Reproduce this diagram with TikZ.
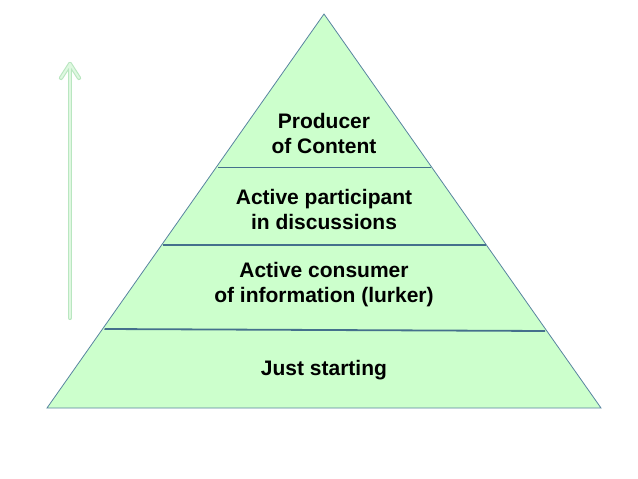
\documentclass[tikz,border=0pt]{standalone}
\usepackage{fontspec}
\setmainfont{Liberation Sans}
\definecolor{layerfill}{RGB}{204,255,204}
\definecolor{layeredge}{RGB}{88,132,160}
\definecolor{layerline}{RGB}{68,112,140}
\definecolor{arrowedge}{RGB}{185,230,192}
\definecolor{arrowfill}{RGB}{222,248,224}
\tikzset{
  levelname/.style={align=center, font=\fontsize{21}{25}\selectfont\bfseries},
  arrowline/.style={line cap=round, line join=round}
}
\begin{document}
\begin{tikzpicture}[x=1pt, y=-1pt]
  \useasboundingbox (0,0) rectangle (638,479);
  % pyramid outline
  \coordinate (apex) at (324,14);
  \coordinate (baseleft) at (47,408);
  \coordinate (baseright) at (601,408);
  \fill[layerfill] (apex) -- (baseleft) -- (baseright) -- cycle;
  \draw[layeredge, line width=0.8pt] (apex) -- (baseleft) -- (baseright) -- cycle;
  % layer boundaries
  \draw[layerline, line width=1.8pt] (218,167.5) -- (431,167.5);
  \draw[layerline, line width=1.8pt] (163,245) -- (486,245);
  \draw[layerline, line width=1.8pt] (104.5,329) -- (545,331);
  % labels
  \node[levelname] (producer) at (324,133) {Producer\\of Content};
  \node[levelname] (participant) at (324,209) {Active participant\\in discussions};
  \node[levelname] (consumer) at (324,285) {Active consumer\\of information (lurker)};
  \node[levelname] (starting) at (324,370.5) {Just starting};
  % growth arrow
  \coordinate (arrowfoot) at (70,318);
  \coordinate (arrowtip) at (70,64);
  \foreach \w/\c in {4.2pt/arrowedge, 2pt/arrowfill} {
    \draw[arrowline, line width=\w, \c] (arrowfoot) -- (arrowtip);
    \draw[arrowline, line width=\w, \c] ([xshift=-9pt,yshift=-14pt]arrowtip) -- (arrowtip) -- ([xshift=9pt,yshift=-14pt]arrowtip);
  }
\end{tikzpicture}
\end{document}
